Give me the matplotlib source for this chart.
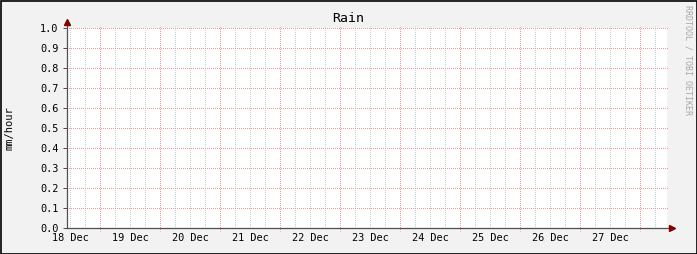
#!/usr/bin/env python3
# -*- coding: utf-8 -*-

import datetime as dt

import numpy as np
import matplotlib
matplotlib.use('Agg')
import matplotlib.pyplot as plt
import matplotlib.dates as mdates
from matplotlib.patches import Rectangle

# time window (10 days) and labels
t_start = dt.datetime(2023, 12, 18, 10, 48)
t_end = dt.datetime(2023, 12, 28, 10, 48)
day_labels = ['18 Dec', '19 Dec', '20 Dec', '21 Dec', '22 Dec',
              '23 Dec', '24 Dec', '25 Dec', '26 Dec', '27 Dec']
label_days = [dt.datetime(2023, 12, d, 12, 0) for d in range(18, 28)]

y_ticks = [0.0, 0.1, 0.2, 0.3, 0.4, 0.5, 0.6, 0.7, 0.8, 0.9, 1.0]
y_min, y_max = 0.0, 1.0

W, H = 697, 254
mono = 'DejaVu Sans Mono'
back = '#f2f2f2'
mgrid = '#f09999'
grid = '#cccccc'
axcol = '#505050'
arrow = '#800000'
dot = (0.5, (1, 1))   # offset by half a pixel so the dots land on whole pixels

fig = plt.figure(figsize=(W / 100, H / 100), dpi=100, facecolor=back)
ax = fig.add_axes([67 / W, (H - 228) / H, 600 / W, 200 / H])
ax.set_facecolor('white')

x0, x1 = mdates.date2num(t_start), mdates.date2num(t_end)
ax.set_xlim(x0, x1)
ax.set_ylim(y_min, y_max)

minor_x = mdates.HourLocator(byhour=[6, 12, 18]).tick_values(t_start, t_end)
major_x = mdates.DayLocator().tick_values(t_start, t_end)
minor_x = minor_x[(minor_x > x0) & (minor_x < x1)]
major_x = major_x[(major_x > x0) & (major_x < x1)]

# grid, rrdtool style dotted lines sticking out a little at the top
grids = [
    ax.vlines(minor_x, y_min, y_max + 0.01, colors=grid, linestyles=dot, linewidth=0.72,
              clip_on=False, zorder=1),
    ax.vlines(major_x, y_min - 0.015, y_max + 0.01, colors=mgrid, linestyles=dot, linewidth=0.72,
              clip_on=False, zorder=1.1),
    ax.hlines(y_ticks[1:], x0, x1 + 0.02, colors=mgrid, linestyles=dot, linewidth=0.72,
              clip_on=False, zorder=1.1),
]
for g in grids:
    g.set_snap(True)

ax.set_xticks([])
ax.set_yticks(y_ticks)
ax.set_yticklabels(['%.1f' % v for v in y_ticks], family=mono, fontsize=7.4)
ax.tick_params(axis='y', which='major', length=3, width=0.72, color=axcol, direction='out', pad=3)

for s in ax.spines.values():
    s.set_visible(False)

for d, lab in zip(label_days, day_labels):
    ax.text(mdates.date2num(d), -0.025, lab, ha='center', va='top',
            family=mono, fontsize=7.4, color='black', clip_on=False)

# axes with arrows
ax.plot([0, 1.008], [0, 0], transform=ax.transAxes, color=axcol, lw=0.9, clip_on=False, zorder=3)
ax.plot([0, 0], [0, 1.03], transform=ax.transAxes, color=axcol, lw=0.9, clip_on=False, zorder=3)
ax.plot([1.008], [0], transform=ax.transAxes, marker='>', color=arrow, ms=4, clip_on=False, zorder=3)
ax.plot([0], [1.03], transform=ax.transAxes, marker='^', color=arrow, ms=4, clip_on=False, zorder=3)

fig.text(348 / W, 1 - 19 / H, 'Rain', ha='center', va='center', family=mono, fontsize=9.5)
fig.text(10 / W, 1 - 128 / H, 'mm/hour', ha='center', va='center', rotation=90,
         family=mono, fontsize=7.5)
fig.text(688 / W, 1 - 5 / H, 'RRDTOOL / TOBI OETIKER', ha='center', va='top', rotation=270,
         family=mono, fontsize=6, color='#a8a8a8')

fig.patches.append(Rectangle((0.5 / W, 0.5 / H), 1 - 1 / W, 1 - 1 / H, transform=fig.transFigure,
                             fill=False, edgecolor='black', lw=1.2))

fig.savefig('out.png', dpi=100, facecolor=back)
